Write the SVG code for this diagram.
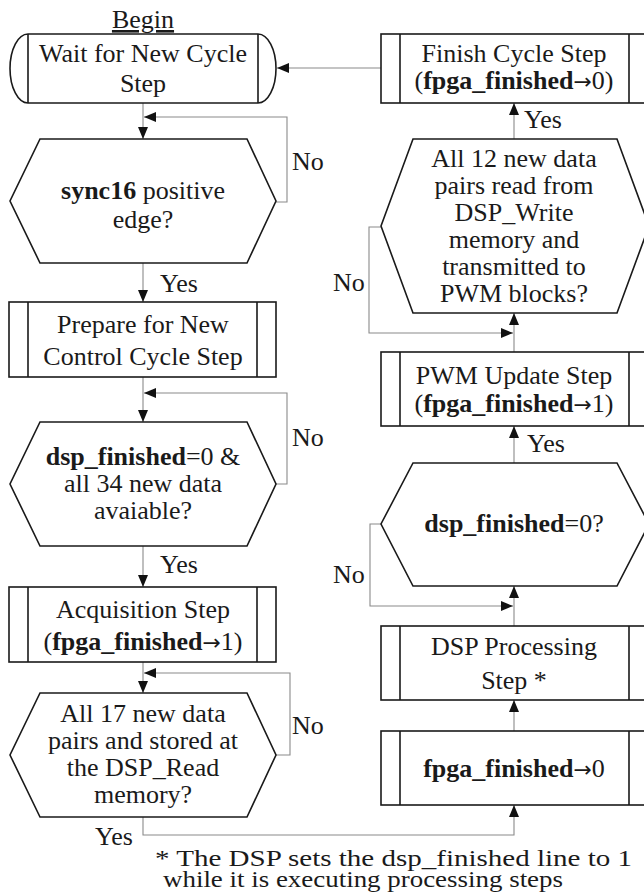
<svg xmlns="http://www.w3.org/2000/svg" width="644" height="892" viewBox="0 0 644 892">
<style>
.n{fill:#fff;stroke:#1a1a1a;stroke-width:1.6}
.d{fill:none;stroke:#1a1a1a;stroke-width:1.6}
.t{font-family:"Liberation Serif","Times New Roman",serif;font-size:26px;fill:#1a1a1a;text-anchor:middle}
.l{font-family:"Liberation Serif","Times New Roman",serif;font-size:26px;fill:#1a1a1a}
.f{font-family:"Liberation Serif","Times New Roman",serif;font-size:24px;fill:#1a1a1a}
.c{fill:none;stroke:#8a8a8a;stroke-width:1.1}
.b{font-weight:bold}
.a{font-family:"DejaVu Sans",sans-serif;font-weight:normal;font-size:22px}
</style>
<defs>
<marker id="ah" markerWidth="12" markerHeight="10" refX="12" refY="5" orient="auto" markerUnits="userSpaceOnUse">
<path d="M0,0 L12,5 L0,10 Z" fill="#111"/>
</marker>
</defs>
<rect width="644" height="892" fill="#fff"/>

<g id="connectors">
<path class="c" d="M143,103 V139" marker-end="url(#ah)"/>
<path class="c" d="M276,202 H287 V117 H144" marker-end="url(#ah)"/>
<path class="c" d="M143,263 V302" marker-end="url(#ah)"/>
<path class="c" d="M143,377 V422" marker-end="url(#ah)"/>
<path class="c" d="M276,484 H287 V393 H144" marker-end="url(#ah)"/>
<path class="c" d="M143,546 V587" marker-end="url(#ah)"/>
<path class="c" d="M143,662 V693" marker-end="url(#ah)"/>
<path class="c" d="M276,755 H290 V673 H144" marker-end="url(#ah)"/>
<path class="c" d="M143,817 V835 H514 V805" marker-end="url(#ah)"/>
<path class="c" d="M514,731 V700" marker-end="url(#ah)"/>
<path class="c" d="M514,626 V586" marker-end="url(#ah)"/>
<path class="c" d="M381,524 H370 V606 H513" marker-end="url(#ah)"/>
<path class="c" d="M514,463 V426" marker-end="url(#ah)"/>
<path class="c" d="M514,352 V313" marker-end="url(#ah)"/>
<path class="c" d="M381,227 H369 V333 H513" marker-end="url(#ah)"/>
<path class="c" d="M514,139 V103" marker-end="url(#ah)"/>
<path class="c" d="M381,68 H277" marker-end="url(#ah)"/>
<text class="l" x="292" y="170">No</text>
<text class="l" x="160" y="292">Yes</text>
<text class="l" x="292" y="446">No</text>
<text class="l" x="160" y="573">Yes</text>
<text class="l" x="292" y="734">No</text>
<text class="l" x="95" y="845">Yes</text>
<text class="l" x="524" y="128">Yes</text>
<text class="l" x="333" y="291">No</text>
<text class="l" x="527" y="452">Yes</text>
<text class="l" x="333" y="583">No</text>
</g>

<g id="begin">
<text class="t" x="143" y="28" text-decoration="underline">Begin</text>
</g>

<g id="wait">
<path class="n" d="M28,34 H258 A18,34.5 0 0 1 258,103 H28 A18,34.5 0 0 1 28,34 Z"/>
<path class="d" d="M28,34 V103 M258,34 V103"/>
<text class="t" x="143" y="62">Wait for New Cycle</text>
<text class="t" x="143" y="92">Step</text>
</g>

<g id="sync16">
<polygon class="n" points="40,139 247,139 276,201 247,263 40,263 10,201"/>
<text class="t" x="143" y="199"><tspan class="b">sync16</tspan> positive</text>
<text class="t" x="143" y="228">edge?</text>
</g>

<g id="prepare">
<rect class="n" x="9" y="302" width="267" height="75"/>
<path class="d" d="M28,302 V377 M257,302 V377"/>
<text class="t" x="143" y="333">Prepare for New</text>
<text class="t" x="143" y="365">Control Cycle Step</text>
</g>

<g id="dspready">
<polygon class="n" points="40,422 247,422 276,484 247,546 40,546 10,484"/>
<text class="t" x="143" y="465"><tspan class="b">dsp_finished</tspan>=0 &amp;</text>
<text class="t" x="143" y="492">all 34 new data</text>
<text class="t" x="143" y="519">avaiable?</text>
</g>

<g id="acquisition">
<rect class="n" x="9" y="587" width="267" height="75"/>
<path class="d" d="M28,587 V662 M257,587 V662"/>
<text class="t" x="143" y="618">Acquisition Step</text>
<text class="t" x="143" y="650">(<tspan class="b">fpga_finished</tspan><tspan class="a">→</tspan>1)</text>
</g>

<g id="all17">
<polygon class="n" points="40,693 247,693 276,755 247,817 40,817 10,755"/>
<text class="t" x="143" y="722">All 17 new data</text>
<text class="t" x="143" y="749">pairs and stored at</text>
<text class="t" x="143" y="776">the DSP_Read</text>
<text class="t" x="143" y="803">memory?</text>
</g>

<g id="finish">
<rect class="n" x="381" y="34" width="268" height="69"/>
<path class="d" d="M400,34 V103 M629,34 V103"/>
<text class="t" x="514" y="62">Finish Cycle Step</text>
<text class="t" x="514" y="89">(<tspan class="b">fpga_finished</tspan><tspan class="a">→</tspan>0)</text>
</g>

<g id="all12">
<polygon class="n" points="413,139 617,139 649,226 617,313 413,313 381,226"/>
<text class="t" x="514" y="167">All 12 new data</text>
<text class="t" x="514" y="194">pairs read from</text>
<text class="t" x="514" y="221">DSP_Write</text>
<text class="t" x="514" y="248">memory and</text>
<text class="t" x="514" y="275">transmitted to</text>
<text class="t" x="514" y="302">PWM blocks?</text>
</g>

<g id="pwm">
<rect class="n" x="381" y="352" width="268" height="74"/>
<path class="d" d="M400,352 V426 M629,352 V426"/>
<text class="t" x="514" y="384">PWM Update Step</text>
<text class="t" x="514" y="412">(<tspan class="b">fpga_finished</tspan><tspan class="a">→</tspan>1)</text>
</g>

<g id="dspfinished">
<polygon class="n" points="413,463 617,463 649,524 617,586 413,586 381,524"/>
<text class="t" x="514" y="532"><tspan class="b">dsp_finished</tspan>=0?</text>
</g>

<g id="dspprocessing">
<rect class="n" x="381" y="626" width="268" height="74"/>
<path class="d" d="M400,626 V700 M629,626 V700"/>
<text class="t" x="514" y="655">DSP Processing</text>
<text class="t" x="514" y="689">Step *</text>
</g>

<g id="fpgareset">
<rect class="n" x="381" y="731" width="268" height="74"/>
<path class="d" d="M400,731 V805 M629,731 V805"/>
<text class="t" x="514" y="777"><tspan class="b">fpga_finished</tspan><tspan class="a">→</tspan>0</text>
</g>

<g id="footnote">
<text class="f" x="155" y="866" textLength="477" lengthAdjust="spacingAndGlyphs">* The DSP sets the dsp_finished line to 1</text>
<text class="f" x="163" y="887" textLength="400" lengthAdjust="spacingAndGlyphs">while it is executing processing steps</text>
</g>
</svg>
